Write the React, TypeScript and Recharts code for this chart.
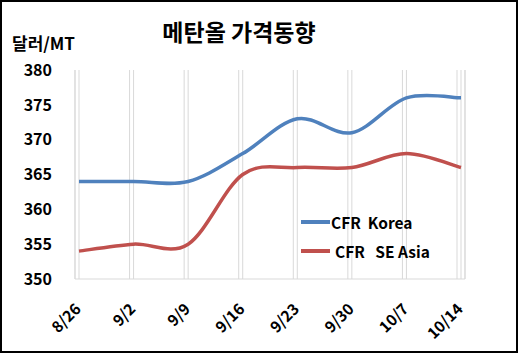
import { LineChart, Line, XAxis, YAxis, CartesianGrid, Legend } from "recharts";

const WEEKS = ["8/26", "9/2", "9/9", "9/16", "9/23", "9/30", "10/7", "10/14"];
const KOREA = [364, 364, 364, 368, 373, 371, 376, 376];
const SE_ASIA = [354, 355, 355, 365, 366, 366, 368, 366];
const Y_TICKS = [350, 355, 360, 365, 370, 375, 380];
const SERIES_ORDER = ["korea", "asia"];

const data = WEEKS.map((week, i) => ({ week, korea: KOREA[i], asia: SE_ASIA[i] }));

const FONT = "'Noto Sans CJK KR', 'Noto Sans', sans-serif";

// Excel-style smoothed line (Catmull-Rom as bezier)
function excelSmooth(context: any) {
  let pts: number[][] = [];
  return {
    areaStart() {},
    areaEnd() {},
    lineStart() { pts = []; },
    point(x: number, y: number) { pts.push([+x, +y]); },
    lineEnd() {
      if (!pts.length) return;
      context.moveTo(pts[0][0], pts[0][1]);
      for (let i = 0; i < pts.length - 1; i++) {
        const p0 = pts[i - 1] || pts[i];
        const p1 = pts[i];
        const p2 = pts[i + 1];
        const p3 = pts[i + 2] || pts[i + 1];
        context.bezierCurveTo(
          p1[0] + (p2[0] - p0[0]) / 6, p1[1] + (p2[1] - p0[1]) / 6,
          p2[0] - (p3[0] - p1[0]) / 6, p2[1] - (p3[1] - p1[1]) / 6,
          p2[0], p2[1]
        );
      }
    },
  };
}

const XTick = ({ x, y, payload }: any) => (
  <text
    x={x + 3}
    y={y + 23}
    transform={`rotate(-45, ${x + 3}, ${y + 23})`}
    textAnchor="end"
    fill="#000"
    fontSize={15.5}
    fontWeight="bold"
    fontFamily={FONT}
  >
    {payload.value}
  </text>
);

const LegendBox = ({ payload }: any) => {
  const items = [...(payload || [])].sort(
    (a: any, b: any) => SERIES_ORDER.indexOf(a.dataKey) - SERIES_ORDER.indexOf(b.dataKey)
  );
  return (
    <div style={{ fontFamily: FONT, fontWeight: "bold", fontSize: 15.5, color: "#000" }}>
      {items.map((p: any, i: number) => (
        <div key={i} style={{ display: "flex", alignItems: "center", height: 29 }}>
          <span style={{ display: "inline-block", width: 29, height: 4, background: p.color, marginRight: i === 0 ? 1 : 5 }} />
          <span style={{ whiteSpace: "pre" }}>{p.value}</span>
        </div>
      ))}
    </div>
  );
};

export default function App() {
  return (
    <div style={{ position: "absolute", left: 0, top: 0, width: 518, height: 353, background: "#fff" }}>
      <LineChart width={518} height={353} data={data} margin={{ top: 70, right: 53, bottom: 0, left: 0 }}>
        <XAxis xAxisId="grid" dataKey="week" hide padding={{ left: 0, right: 8 }} />
        <CartesianGrid xAxisId="grid" horizontal={false} stroke="#d9d9d9" />
        <CartesianGrid horizontal={false} stroke="#d9d9d9" />
        <XAxis
          dataKey="week"
          height={74}
          padding={{ left: 4, right: 4 }}
          axisLine={{ stroke: "#d9d9d9" }}
          tickLine={false}
          interval={0}
          tick={<XTick />}
        />
        <YAxis
          width={75}
          domain={[350, 380]}
          ticks={Y_TICKS}
          axisLine={false}
          tickLine={false}
          tickSize={0}
          tickMargin={23}
          tick={{ fill: "#000", fontSize: 16, fontWeight: "bold", fontFamily: FONT }}
        />
        <Legend
          layout="vertical"
          align="center"
          verticalAlign="middle"
          content={<LegendBox />}
          wrapperStyle={{ position: "absolute", left: 301, top: 207, width: 170 }}
        />
        <Line
          dataKey="korea"
          name="CFR  Korea"
          type={excelSmooth as any}
          stroke="#4F81BD"
          strokeWidth={3.5}
          dot={false}
          activeDot={false}
          isAnimationActive={false}
        />
        <Line
          dataKey="asia"
          name="CFR   SE Asia"
          type={excelSmooth as any}
          stroke="#C0504D"
          strokeWidth={3.5}
          dot={false}
          activeDot={false}
          isAnimationActive={false}
        />
      </LineChart>
      <div style={{ position: "absolute", left: 0, top: 14, width: 478, textAlign: "center", fontFamily: FONT, fontWeight: "bold", fontSize: 23, color: "#000" }}>
        메탄올 가격동향
      </div>
      <div style={{ position: "absolute", left: 12, top: 30, fontFamily: FONT, fontWeight: "bold", fontSize: 17, color: "#000" }}>
        달러/MT
      </div>
      <div style={{ position: "absolute", left: 0, top: 0, width: 518, height: 353, boxSizing: "border-box", border: "2px solid #000", pointerEvents: "none" }} />
    </div>
  );
}
